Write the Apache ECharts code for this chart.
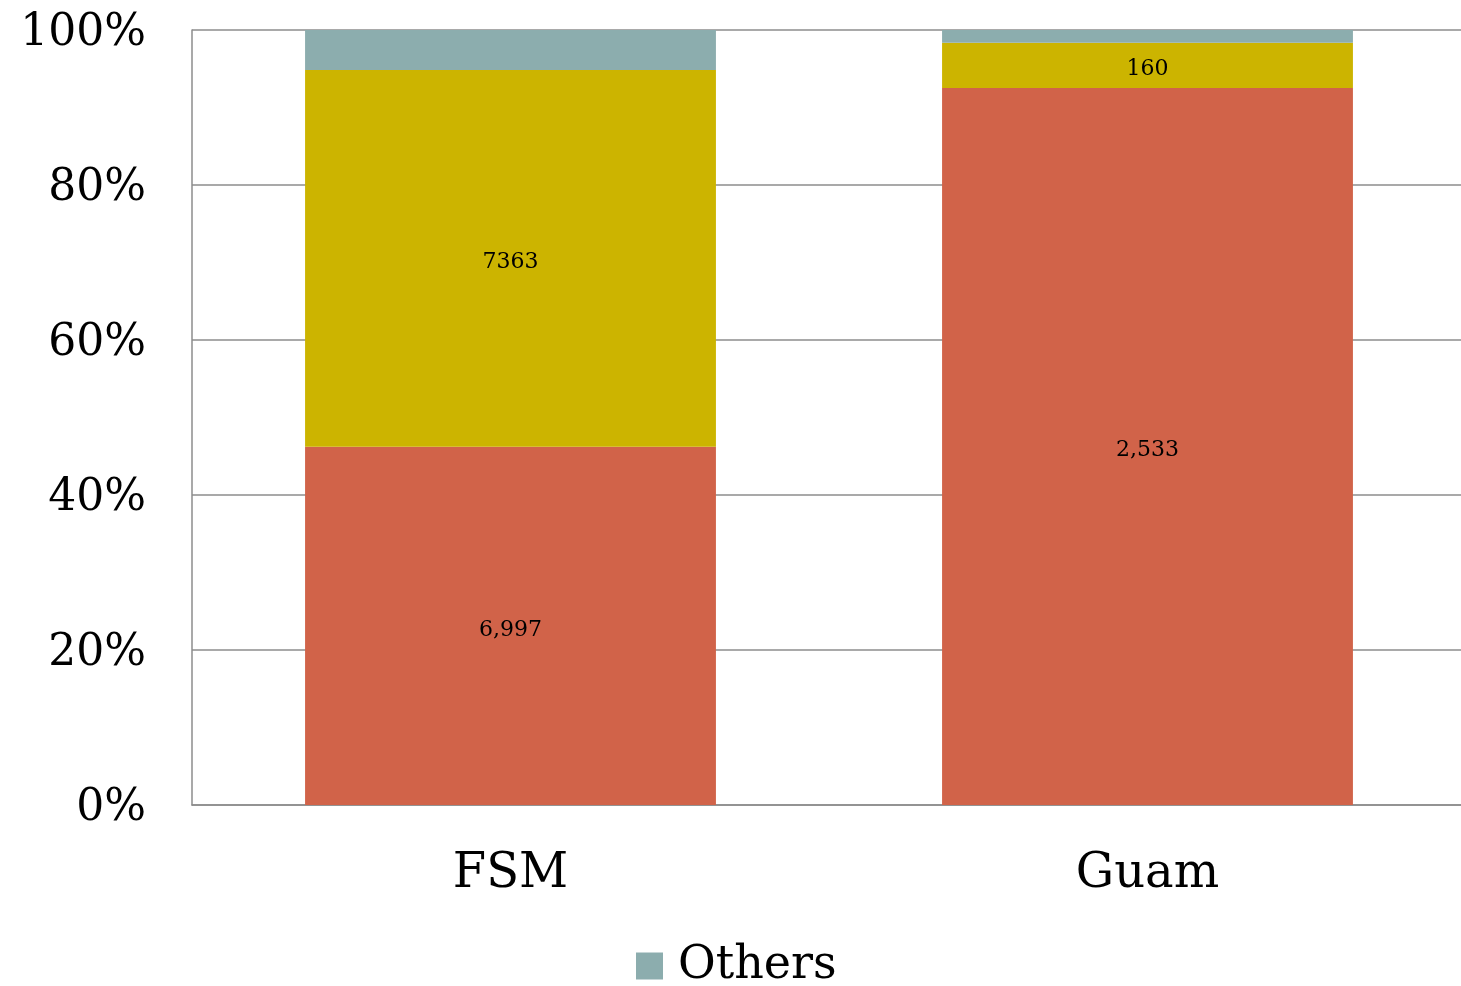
<!DOCTYPE html>
<html>
<head>
<meta charset="utf-8">
<script src="https://cdn.jsdelivr.net/npm/echarts@6/dist/echarts.min.js"></script>
<style>
html,body{margin:0;padding:0;background:#fff;}
#chart{width:1461px;height:986px;}
</style>
</head>
<body>
<div id="chart"></div>
<script>
const categories = ['FSM', 'Guam'];
const seriesNames = ['Group 1', 'Group 2', 'Others'];
const group1Values = [6997, 2533];
const group2Values = [7363, 160];
const othersValues = [780, 45];
const group1Labels = ['6,997', '2,533'];
const group2Labels = ['7363', '160'];
const yTicks = [0, 20, 40, 60, 80, 100];

const totals = categories.map((_, i) => group1Values[i] + group2Values[i] + othersValues[i]);
const pct = arr => arr.map((v, i) => v / totals[i] * 100);

const FONT = "Georgia, 'DejaVu Serif', serif";
const chart = echarts.init(document.getElementById('chart'));

function mk(name, values, labels, color) {
  return {
    name: name,
    type: 'bar',
    stack: 'total',
    barWidth: '64.5%',
    data: pct(values),
    itemStyle: { color: color },
    label: labels ? {
      show: true,
      position: 'inside',
      offset: [0, 4],
      color: '#000',
      fontFamily: FONT,
      fontSize: 22,
      formatter: p => labels[p.dataIndex]
    } : { show: false },
    emphasis: { disabled: true }
  };
}

chart.setOption({
  animation: false,
  backgroundColor: '#fff',
  grid: { left: 192, width: 1274, top: 30, bottom: 181, containLabel: false, outerBoundsMode: 'none' },
  legend: {
    data: ['Others'],
    bottom: -8,
    left: 631,
    itemWidth: 27,
    itemHeight: 27,
    itemGap: 20,
    icon: 'rect',
    textStyle: { fontFamily: FONT, fontSize: 46, color: '#000', padding: [0, 0, 0, 10] }
  },
  xAxis: {
    type: 'category',
    data: categories,
    axisLine: { lineStyle: { color: '#8c8c8c', width: 1.5 } },
    axisTick: { show: false },
    axisLabel: { fontFamily: FONT, fontSize: 48, color: '#000', margin: 46 }
  },
  yAxis: {
    type: 'value',
    min: 0,
    max: 100,
    interval: 20,
    axisLine: { show: true, lineStyle: { color: '#8c8c8c', width: 1.5 } },
    axisTick: { show: false },
    splitLine: { lineStyle: { color: '#8c8c8c', width: 1.5 } },
    axisLabel: {
      color: '#000', margin: 46,
      formatter: v => yTicks.includes(v) ? '{a|' + v + '%}' : '',
      rich: { a: { fontFamily: FONT, fontSize: 44, color: '#000', padding: [7, 0, 0, 0] } }
    }
  },
  series: [
    mk(seriesNames[0], group1Values, group1Labels, '#D16349'),
    mk(seriesNames[1], group2Values, group2Labels, '#CCB400'),
    mk(seriesNames[2], othersValues, null, '#8CADAE')
  ]
});
</script>
</body>
</html>
